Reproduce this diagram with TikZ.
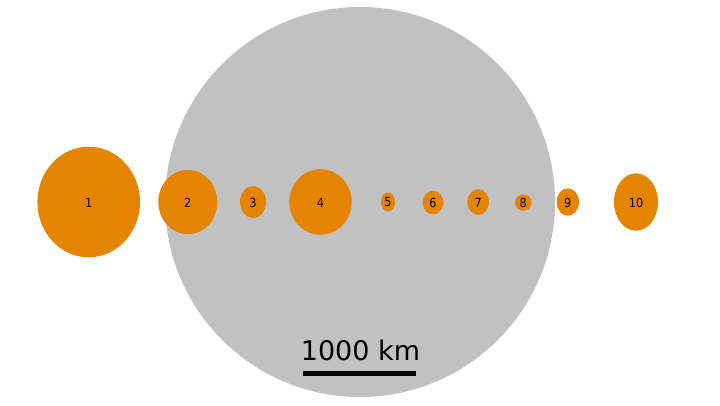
\documentclass[tikz,border=0pt]{standalone}
\usepackage{fontspec}
\setmainfont{DejaVu Sans}
\newfontfamily\condfont{DejaVu Sans Condensed}
\definecolor{moonorange}{HTML}{E48400}
\definecolor{bodygray}{HTML}{C1C1C1}
\begin{document}
\begin{tikzpicture}[x=1pt,y=-1pt,
  moon/.style={fill=moonorange,draw=none,ellipse shape aux},
  lbl/.style={font=\condfont\fontsize{12.5}{12.5}\selectfont,text=black,inner sep=0pt}]
\useasboundingbox (0,0) rectangle (720,405);
\fill[bodygray] (360,202) circle[radius=195];
\path[fill=moonorange] (88.7,202) ellipse[x radius=51.3,y radius=55.3];
\node[lbl] (m1) at (88.7,202.5) {1};
\path[fill=moonorange] (187.8,202) ellipse[x radius=29.5,y radius=32.2];
\node[lbl] (m2) at (187.8,202.5) {2};
\path[fill=moonorange] (253,202) ellipse[x radius=13,y radius=16];
\node[lbl] (m3) at (253,202.5) {3};
\path[fill=moonorange] (320.5,202) ellipse[x radius=31.2,y radius=32.8];
\node[lbl] (m4) at (320.5,202.5) {4};
\path[fill=moonorange] (388,202) ellipse[x radius=7,y radius=9.5];
\node[lbl] (m5) at (388,202.5) {5};
\path[fill=moonorange] (433,202.5) ellipse[x radius=10.3,y radius=11.8];
\node[lbl] (m6) at (433,202.5) {6};
\path[fill=moonorange] (478.2,202) ellipse[x radius=10.8,y radius=12.8];
\node[lbl] (m7) at (478.2,202.5) {7};
\path[fill=moonorange] (523.3,202.5) ellipse[x radius=8.3,y radius=8.2];
\node[lbl] (m8) at (523.3,202.5) {8};
\path[fill=moonorange] (567.8,202) ellipse[x radius=11.2,y radius=13.7];
\node[lbl] (m9) at (567.8,202.5) {9};
\path[fill=moonorange] (636,202) ellipse[x radius=22,y radius=28.7];
\node[lbl] (m10) at (636,202.5) {10};
\node[font=\fontsize{27}{27}\selectfont,inner sep=0pt,anchor=base] (scale) at (360.5,360) {1000 km};
\coordinate (barL) at (303.3,373.4);
\coordinate (barR) at (416,373.4);
\draw[line width=5.3] (barL) -- (barR);
\end{tikzpicture}
\end{document}
